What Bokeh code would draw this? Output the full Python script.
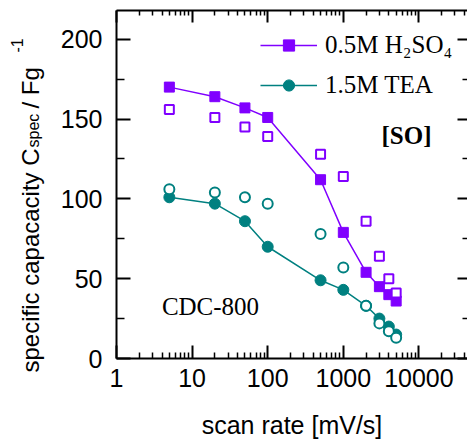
import math
from bokeh.plotting import figure
from bokeh.layouts import row
from bokeh.models import (Range1d, FixedTicker, LogAxis, LinearAxis, Label, Legend,
                          LegendItem, CustomJSTickFormatter, BasicTickFormatter)
from bokeh.core.properties import value
from bokeh.embed import file_html
from bokeh.resources import INLINE

# ---------------- data ----------------
scan_rate = [5, 20, 50, 100, 500, 1000, 2000, 3000, 4000, 5000]
h2so4_filled = [170, 164, 157, 151, 112, 79, 54, 45, 40, 36]
h2so4_open = [156, 151, 145, 139, 128, 114, 86, 64, 50, 41]
tea_filled = [101, 97, 86, 70, 49, 43, 33, 25, 20, 15]
tea_open = [106, 104, 101, 97, 78, 57, 33, 22, 17, 13]

x_major = [1, 10, 100, 1000, 10000]
x_minor = [m * d for d in [1, 10, 100, 1000, 10000] for m in range(2, 10)]
y_major = [0, 50, 100, 150, 200]
y_minor = [25, 75, 125, 175]

series_names = ["0.5M H\u2082SO\u2084", "1.5M TEA"]
ylabel_parts = ["specific capacacity C", "spec", " / Fg", "-1"]

PURPLE = "#8000ff"
TEAL = "#008080"
SANS = "Liberation Sans"
SERIF = "Liberation Serif"

W, H = 467, 446
LABEL_W = 46

# ---------------- y-axis title strip (rotated text) ----------------
fy = figure(width=LABEL_W, height=H, x_range=Range1d(0, LABEL_W), y_range=Range1d(0, H),
            output_backend="svg", toolbar_location=None,
            min_border_left=0, min_border_right=0, min_border_top=0, min_border_bottom=0)
fy.frame_align = False
fy.axis.visible = False
fy.grid.visible = False
fy.outline_line_color = None
fy.background_fill_color = "white"
fy.border_fill_color = "white"

# (baseline x, start y measured from the top, font size) for each part
part_pos_x = [30, 33, 30, 16]
part_pos_top = [372, 147, 108, 52]
part_size = ["24px", "16px", "24px", "16px"]
for txt, bx, ty, fs in zip(ylabel_parts, part_pos_x, part_pos_top, part_size):
    fy.text(x=[bx], y=[H - ty], text=[txt], angle=math.pi / 2,
            text_font=value(SANS), text_font_size=fs, text_color="black",
            text_align="left", text_baseline="alphabetic")

# ---------------- main plot ----------------
p = figure(width=W - LABEL_W, height=H, x_axis_type="log",
           x_range=Range1d(1, 43900), y_range=Range1d(0, 218),
           output_backend="svg", toolbar_location=None,
           min_border_left=116 - LABEL_W, min_border_right=0,
           min_border_top=10, min_border_bottom=88)
p.frame_align = False
p.grid.visible = False
p.outline_line_color = None
p.background_fill_color = "white"
p.border_fill_color = "white"

# bottom axis
xa = p.xaxis[0]
xa.ticker = FixedTicker(ticks=x_major, minor_ticks=x_minor)
xa.formatter = BasicTickFormatter(use_scientific=False)
xa.major_tick_in = 13
xa.major_tick_out = 0
xa.minor_tick_in = 6
xa.minor_tick_out = 0
xa.axis_line_width = 2
xa.major_tick_line_width = 2
xa.minor_tick_line_width = 1.5
xa.major_label_text_font = SANS
xa.major_label_text_font_size = "25px"
xa.major_label_text_color = "black"
xa.major_label_standoff = 10
xa.axis_label = "scan rate [mV/s]"
xa.axis_label_text_font = SANS
xa.axis_label_text_font_size = "25px"
xa.axis_label_text_font_style = "normal"
xa.axis_label_text_color = "black"
xa.axis_label_standoff = 21

# left axis
ya = p.yaxis[0]
ya.ticker = FixedTicker(ticks=y_major, minor_ticks=y_minor)
ya.major_tick_in = 14
ya.major_tick_out = 0
ya.minor_tick_in = 8
ya.minor_tick_out = 0
ya.axis_line_width = 2
ya.major_tick_line_width = 2
ya.minor_tick_line_width = 1.5
ya.major_label_text_font = SANS
ya.major_label_text_font_size = "25px"
ya.major_label_text_color = "black"
ya.major_label_standoff = 14

empty = CustomJSTickFormatter(code="return ''")

top = LogAxis(ticker=FixedTicker(ticks=x_major, minor_ticks=x_minor + [20000, 30000, 40000]),
              formatter=empty, major_tick_in=12, major_tick_out=0,
              minor_tick_in=5, minor_tick_out=0, axis_line_width=2,
              major_tick_line_width=2, minor_tick_line_width=1.5,
              major_label_text_font_size="0px", major_label_standoff=0)
p.add_layout(top, "above")

right = LinearAxis(ticker=FixedTicker(ticks=y_major, minor_ticks=y_minor),
                   formatter=empty, major_tick_in=10, major_tick_out=0,
                   minor_tick_in=5, minor_tick_out=0, axis_line_color=None,
                   major_tick_line_width=2, minor_tick_line_width=1.5,
                   major_label_text_font_size="0px", major_label_standoff=0)
p.add_layout(right, "right")

# ---------------- data marks ----------------
lp = p.line(scan_rate, h2so4_filled, line_color=PURPLE, line_width=1.5)
sp = p.scatter(scan_rate, h2so4_filled, marker="square", size=10,
               fill_color=PURPLE, line_color=PURPLE)
lt = p.line(scan_rate, tea_filled, line_color=TEAL, line_width=1.5)
st = p.scatter(scan_rate, tea_filled, marker="circle", size=11,
               fill_color=TEAL, line_color=TEAL)
p.scatter(scan_rate, h2so4_open, marker="square", size=9,
          fill_color="white", line_color=PURPLE, line_width=2)
p.scatter(scan_rate, tea_open, marker="circle", size=10,
          fill_color="white", line_color=TEAL, line_width=2)

# ---------------- legend ----------------
legend = Legend(items=[LegendItem(label=series_names[0], renderers=[lp, sp]),
                       LegendItem(label=series_names[1], renderers=[lt, st])],
                location=(144, 259), orientation="vertical",
                glyph_width=57, glyph_height=28, label_height=28,
                label_standoff=8, spacing=12, padding=0, margin=0,
                border_line_color=None, background_fill_alpha=0,
                label_text_font=SERIF, label_text_font_size="25px",
                label_text_color="black")
p.add_layout(legend, "center")

# ---------------- annotations ----------------
p.add_layout(Label(x=290, y=223, x_units="screen", y_units="screen", text="[SO]",
                   text_font=SERIF, text_font_size="25px", text_font_style="bold",
                   text_align="center", text_baseline="middle", text_color="black"))
p.add_layout(Label(x=94, y=52, x_units="screen", y_units="screen", text="CDC-800",
                   text_font=SERIF, text_font_size="25px",
                   text_align="center", text_baseline="middle", text_color="black"))

layout = row(fy, p, spacing=0)
open("out.html", "w").write(file_html(layout, INLINE))
